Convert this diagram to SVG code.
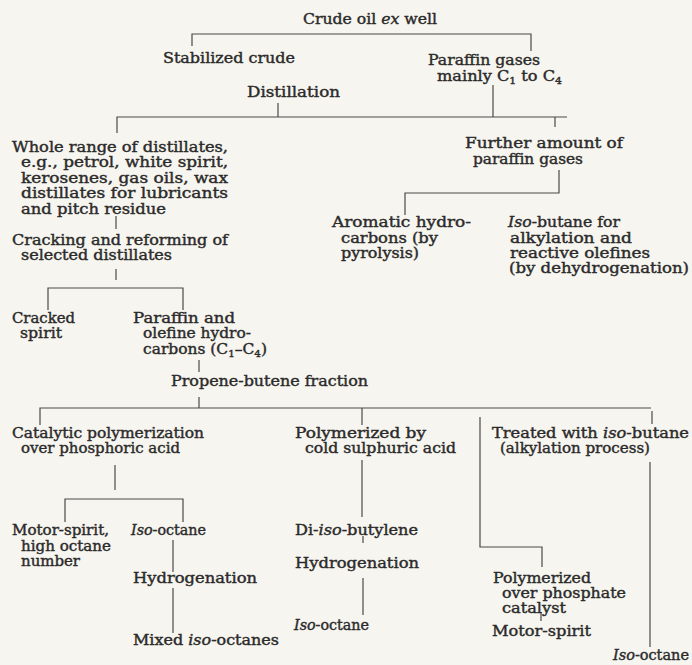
<svg xmlns="http://www.w3.org/2000/svg" width="692" height="665" viewBox="0 0 692 665">
<style>
text{font-family:"DejaVu Serif","Liberation Serif",serif;font-size:14.2px;fill:#2b2b2b;stroke:#2b2b2b;stroke-width:0.4}
.i{font-style:italic}
.s{font-size:9.5px}
#connectors path{fill:none;stroke:#4a4a4a;stroke-width:1.2}
</style>
<rect width="692" height="665" fill="#f7f5ef"/>
<g id="connectors">
<path d="M192,46 V34 H531 V51"/>
<path d="M278,103 V117"/>
<path d="M493,85 V117"/>
<path d="M117,133 V117 H567"/>
<path d="M555,117 V127"/>
<path d="M559,170 V193 H405 V215"/>
<path d="M116,216 V229"/>
<path d="M116,269 V280"/>
<path d="M48,310 V288 H183 V310"/>
<path d="M199,360 V372"/>
<path d="M199,397 V408"/>
<path d="M40,425 V408 H651"/>
<path d="M362,408 V425"/>
<path d="M652,411 V424"/>
<path d="M480,417 V547 H542 V567"/>
<path d="M115,465 V490"/>
<path d="M65,522 V499 H183 V522"/>
<path d="M173,540 V572"/>
<path d="M173,588 V633"/>
<path d="M362,460 V517"/>
<path d="M363,536 V543"/>
<path d="M363,578 V615"/>
<path d="M541,612 V621"/>
<path d="M650,462 V647"/>
</g>
<g id="crude"><text x="303" y="24" textLength="134" lengthAdjust="spacingAndGlyphs">Crude oil <tspan class="i">ex</tspan> well</text></g>
<g id="stabilized"><text x="163" y="63" textLength="132" lengthAdjust="spacingAndGlyphs">Stabilized crude</text></g>
<g id="paraffin-gases"><text x="428" y="65" textLength="112" lengthAdjust="spacingAndGlyphs">Paraffin gases</text><text x="437" y="81" textLength="125" lengthAdjust="spacingAndGlyphs">mainly C<tspan class="s" dy="3">1</tspan><tspan dy="-3"> to C</tspan><tspan class="s" dy="3">4</tspan></text></g>
<g id="distillation"><text x="247" y="97" textLength="93" lengthAdjust="spacingAndGlyphs">Distillation</text></g>
<g id="whole-range">
<text x="12" y="152" textLength="216" lengthAdjust="spacingAndGlyphs">Whole range of distillates,</text>
<text x="21" y="167" textLength="207" lengthAdjust="spacingAndGlyphs">e.g., petrol, white spirit,</text>
<text x="21" y="183" textLength="207" lengthAdjust="spacingAndGlyphs">kerosenes, gas oils, wax</text>
<text x="21" y="198" textLength="207" lengthAdjust="spacingAndGlyphs">distillates for lubricants</text>
<text x="21" y="214" textLength="145" lengthAdjust="spacingAndGlyphs">and pitch residue</text>
</g>
<g id="further"><text x="465" y="148" textLength="158" lengthAdjust="spacingAndGlyphs">Further amount of</text><text x="473" y="164" textLength="110" lengthAdjust="spacingAndGlyphs">paraffin gases</text></g>
<g id="aromatic"><text x="332" y="227" textLength="139" lengthAdjust="spacingAndGlyphs">Aromatic hydro-</text><text x="341" y="243" textLength="97" lengthAdjust="spacingAndGlyphs">carbons (by</text><text x="341" y="258" textLength="78" lengthAdjust="spacingAndGlyphs">pyrolysis)</text></g>
<g id="isobutane"><text x="508" y="227" textLength="112" lengthAdjust="spacingAndGlyphs"><tspan class="i">Iso</tspan>-butane for</text><text x="510" y="243" textLength="122" lengthAdjust="spacingAndGlyphs">alkylation and</text><text x="510" y="258" textLength="140" lengthAdjust="spacingAndGlyphs">reactive olefines</text><text x="509" y="273" textLength="180" lengthAdjust="spacingAndGlyphs">(by dehydrogenation)</text></g>
<g id="cracking"><text x="12" y="245" textLength="216" lengthAdjust="spacingAndGlyphs">Cracking and reforming of</text><text x="21" y="260" textLength="151" lengthAdjust="spacingAndGlyphs">selected distillates</text></g>
<g id="cracked-spirit"><text x="12" y="323" textLength="63" lengthAdjust="spacingAndGlyphs">Cracked</text><text x="20" y="338" textLength="42" lengthAdjust="spacingAndGlyphs">spirit</text></g>
<g id="paraffin-olefine"><text x="133" y="323" textLength="102" lengthAdjust="spacingAndGlyphs">Paraffin and</text><text x="143" y="338" textLength="108" lengthAdjust="spacingAndGlyphs">olefine hydro-</text><text x="143" y="354" textLength="124" lengthAdjust="spacingAndGlyphs">carbons (C<tspan class="s" dy="3">1</tspan><tspan dy="-3">–C</tspan><tspan class="s" dy="3">4</tspan><tspan dy="-3">)</tspan></text></g>
<g id="propene"><text x="171" y="386" textLength="197" lengthAdjust="spacingAndGlyphs">Propene-butene fraction</text></g>
<g id="catalytic"><text x="12" y="438" textLength="192" lengthAdjust="spacingAndGlyphs">Catalytic polymerization</text><text x="21" y="453" textLength="159" lengthAdjust="spacingAndGlyphs">over phosphoric acid</text></g>
<g id="sulphuric"><text x="295" y="438" textLength="131" lengthAdjust="spacingAndGlyphs">Polymerized by</text><text x="305" y="453" textLength="151" lengthAdjust="spacingAndGlyphs">cold sulphuric acid</text></g>
<g id="treated"><text x="492" y="438" textLength="197" lengthAdjust="spacingAndGlyphs">Treated with <tspan class="i">iso</tspan>-butane</text><text x="500" y="453" textLength="150" lengthAdjust="spacingAndGlyphs">(alkylation process)</text></g>
<g id="motor-spirit-high"><text x="12" y="535" textLength="97" lengthAdjust="spacingAndGlyphs">Motor-spirit,</text><text x="21" y="551" textLength="90" lengthAdjust="spacingAndGlyphs">high octane</text><text x="21" y="566" textLength="59" lengthAdjust="spacingAndGlyphs">number</text></g>
<g id="isooctane-left"><text x="131" y="535" textLength="75" lengthAdjust="spacingAndGlyphs"><tspan class="i">Iso</tspan>-octane</text></g>
<g id="hydrogenation-left"><text x="133" y="583" textLength="124" lengthAdjust="spacingAndGlyphs">Hydrogenation</text></g>
<g id="mixed"><text x="133" y="645" textLength="146" lengthAdjust="spacingAndGlyphs">Mixed <tspan class="i">iso</tspan>-octanes</text></g>
<g id="diisobutylene"><text x="295" y="535" textLength="123" lengthAdjust="spacingAndGlyphs">Di-<tspan class="i">iso</tspan>-butylene</text></g>
<g id="hydrogenation-mid"><text x="295" y="568" textLength="124" lengthAdjust="spacingAndGlyphs">Hydrogenation</text></g>
<g id="isooctane-mid"><text x="294" y="630" textLength="75" lengthAdjust="spacingAndGlyphs"><tspan class="i">Iso</tspan>-octane</text></g>
<g id="phosphate"><text x="493" y="583" textLength="98" lengthAdjust="spacingAndGlyphs">Polymerized</text><text x="502" y="598" textLength="124" lengthAdjust="spacingAndGlyphs">over phosphate</text><text x="502" y="613" textLength="64" lengthAdjust="spacingAndGlyphs">catalyst</text></g>
<g id="motor-spirit"><text x="492" y="636" textLength="99" lengthAdjust="spacingAndGlyphs">Motor-spirit</text></g>
<g id="isooctane-right"><text x="613" y="660" textLength="76" lengthAdjust="spacingAndGlyphs"><tspan class="i">Iso</tspan>-octane</text></g>
</svg>
